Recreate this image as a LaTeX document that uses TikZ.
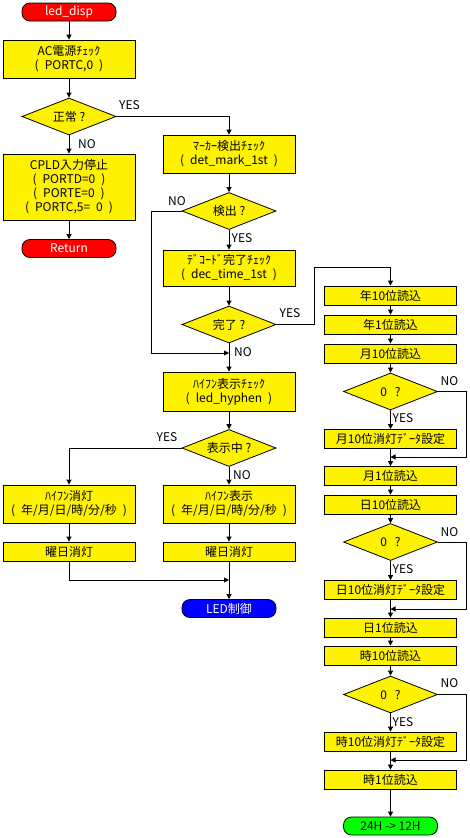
\documentclass[tikz,border=0pt]{standalone}
\usepackage{fontspec}
\setmainfont{Noto Sans CJK JP}
\usetikzlibrary{shapes.geometric,arrows.meta}

\tikzset{
  box/.style={draw, fill=yellow, minimum width=132pt, minimum height=19pt, inner sep=0pt, align=center, line width=0.8pt},
  cond/.style={draw, diamond, fill=yellow, minimum width=94pt, minimum height=37pt, aspect=2.5, inner sep=0pt, line width=0.8pt},
  term/.style={draw, rounded corners=8pt, minimum width=94pt, minimum height=18pt, inner sep=0pt, line width=0.8pt},
  lbl/.style={inner sep=0pt},
  arr/.style={-{Triangle[length=5pt,width=5pt]}, line width=0.8pt},
}

\begin{document}
\begin{tikzpicture}[x=1pt, y=-1pt, font=\fontsize{12}{14}\selectfont]
        \useasboundingbox (0,0) rectangle (469,838); %
        % left column
        \node[term, fill=red, text=white](start) at (69,12){led\_disp}; %
        \node[box, minimum height=38pt](ac) at (69,59){AC電源ﾁｪｯｸ\\(\enspace PORTC,0\enspace)}; %
        \node[cond](ok) at (69,116.5){正常 ?}; %
        \node[box, minimum height=66pt](cpld) at (69,187){CPLD入力停止\\(\enspace PORTD=0\enspace)\\(\enspace PORTE=0\enspace)\\(\enspace PORTC,5=\enspace 0\enspace)}; %
        \node[term, fill=red, text=white](ret) at (69,248.5){Return}; %
        % middle column
        \node[box, minimum height=38pt](mark) at (229,154){ﾏｰｶｰ検出ﾁｪｯｸ\\(\enspace det\_mark\_1st\enspace)}; %
        \node[cond](det) at (229,211){検出 ?}; %
        \node[box, minimum height=36pt](dec) at (229,268){ﾃﾞｺｰﾄﾞ完了ﾁｪｯｸ\\(\enspace dec\_time\_1st\enspace)}; %
        \node[cond](done) at (229,324.5){完了 ?}; %
        \node[box, minimum height=39pt](hyph) at (229,391.5){ﾊｲﾌﾝ表示ﾁｪｯｸ\\(\enspace led\_hyphen\enspace)}; %
        \node[cond](disp) at (229,448){表示中 ?}; %
        \node[box, minimum height=38pt](hoff) at (69,504){ﾊｲﾌﾝ消灯\\(\enspace 年/月/日/時/分/秒\enspace)}; %
        \node[box, minimum height=38pt](hon) at (229,504){ﾊｲﾌﾝ表示\\(\enspace 年/月/日/時/分/秒\enspace)}; %
        \node[box](woffa) at (69,551.5){曜日消灯}; %
        \node[box](woffb) at (229,551.5){曜日消灯}; %
        \node[term, fill=blue, text=white](led) at (229,608.5){LED制御}; %
        % right column
        \node[box](ytens) at (390.5,295.5){年10位読込}; %
        \node[box](yones) at (390.5,324.5){年1位読込}; %
        \node[box](mtens) at (390.5,353.5){月10位読込}; %
        \node[cond](mzero) at (390.5,391.5){0\hspace{8pt}?}; %
        \node[box](mblank) at (390.5,439){月10位消灯ﾃﾞｰﾀ設定}; %
        \node[box](mones) at (390.5,476){月1位読込}; %
        \node[box](dtens) at (390.5,504.5){日10位読込}; %
        \node[cond](dzero) at (390.5,542){0\hspace{8pt}?}; %
        \node[box](dblank) at (390.5,590){日10位消灯ﾃﾞｰﾀ設定}; %
        \node[box](dones) at (390.5,627.5){日1位読込}; %
        \node[box](htens) at (390.5,655.5){時10位読込}; %
        \node[cond](hzero) at (390.5,694.5){0\hspace{8pt}?}; %
        \node[box](hblank) at (390.5,741.5){時10位消灯ﾃﾞｰﾀ設定}; %
        \node[box](hones) at (390.5,779.5){時1位読込}; %
        \node[term, fill=green](conv) at (390.5,826){24H -> 12H}; %
        % labels
        \node[lbl](okyes) at (129.5,105){YES}; %
        \node[lbl](okno) at (87,144){NO}; %
        \node[lbl](detno) at (177,201){NO}; %
        \node[lbl](detyes) at (242,238){YES}; %
        \node[lbl](doneyes) at (290,313){YES}; %
        \node[lbl](doneno) at (243,352){NO}; %
        \node[lbl](dispyes) at (167,437){YES}; %
        \node[lbl](dispno) at (242,475){NO}; %
        \node[lbl](mno) at (449.5,381){NO}; %
        \node[lbl](myes) at (403,418){YES}; %
        \node[lbl](dno) at (449.5,532){NO}; %
        \node[lbl](dyes) at (403,569){YES}; %
        \node[lbl](hno) at (449.5,683){NO}; %
        \node[lbl](hyes) at (403,722){YES}; %
        % junction points
        \coordinate(jdone) at (229,353); %
        \coordinate(jwoff) at (229,580); %
        \coordinate(jm) at (390.5,457); %
        \coordinate(jd) at (390.5,609); %
        \coordinate(jh) at (390.5,760); %
        % edges
        \draw[arr] (start) -- (ac); %
        \draw[arr] (ac) -- (ok); %
        \draw[arr] (ok) -- (cpld); %
        \draw[arr] (cpld) -- (ret); %
        \draw[arr] (ok.east) -| (mark.north); %
        \draw[arr] (mark) -- (det); %
        \draw[arr] (det) -- (dec); %
        \draw[arr] (det.west) -- ++(-30,0) |- (jdone); %
        \draw[arr] (dec) -- (done); %
        \draw[arr] (done) -- (hyph); %
        \draw[arr] (done.east) -- (314,324.5) |- (390.5,267) -- (ytens.north); %
        \draw[arr] (hyph) -- (disp); %
        \draw[arr] (disp.west) -| (hoff.north); %
        \draw[arr] (disp) -- (hon); %
        \draw[arr] (hoff) -- (woffa); %
        \draw[arr] (hon) -- (woffb); %
        \draw[arr] (woffa.south) |- (jwoff); %
        \draw[arr] (woffb) -- (led); %
        \draw[arr] (ytens) -- (yones); %
        \draw[arr] (yones) -- (mtens); %
        \draw[arr] (mtens) -- (mzero); %
        \draw[arr] (mzero) -- (mblank); %
        \draw[arr] (mzero.east) -- (466,391.5) |- (jm); %
        \draw[arr] (mblank) -- (mones); %
        \draw[arr] (mones) -- (dtens); %
        \draw[arr] (dtens) -- (dzero); %
        \draw[arr] (dzero) -- (dblank); %
        \draw[arr] (dzero.east) -- (466,542) |- (jd); %
        \draw[arr] (dblank) -- (dones); %
        \draw[arr] (dones) -- (htens); %
        \draw[arr] (htens) -- (hzero); %
        \draw[arr] (hzero) -- (hblank); %
        \draw[arr] (hzero.east) -- (466,694.5) |- (jh); %
        \draw[arr] (hblank) -- (hones); %
        \draw[arr] (hones) -- (conv); %
\end{tikzpicture}
\end{document}
